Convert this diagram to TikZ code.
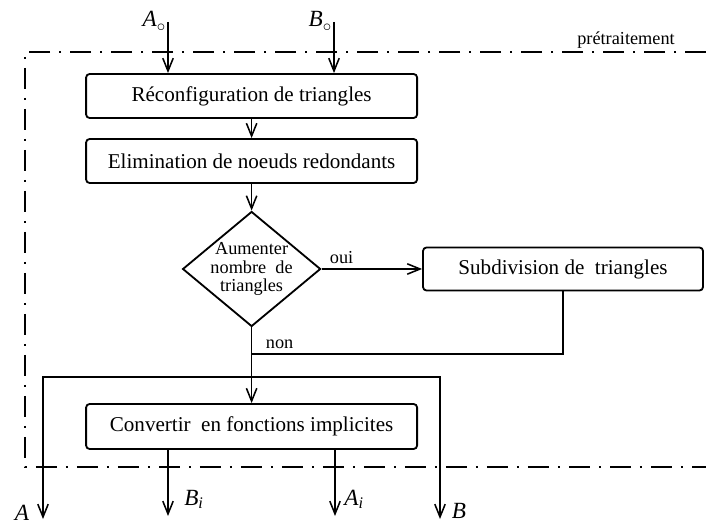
\documentclass[tikz,border=0pt]{standalone}
\usepackage{fontspec}
\setmainfont{Liberation Serif}
\usetikzlibrary{shapes.geometric,arrows.meta}

\begin{document}
\begin{tikzpicture}[
    boite/.style={draw, rounded corners=2.5pt, line width=1.3pt, minimum width=8.275cm, minimum height=1.1cm, font=\fontsize{15}{18}\selectfont},
    losange/.style={draw, diamond, line width=1.3pt, minimum width=3.45cm, minimum height=2.875cm, inner sep=0pt},
    fleche/.style={line width=1.1pt, -{Straight Barb[length=3.2mm,width=2.6mm]}},
    doublefleche/.style={line width=1.1pt, {Straight Barb[length=3.2mm,width=2.6mm]}-{Straight Barb[length=3.2mm,width=2.6mm]}},
    ligne/.style={line width=1.1pt},
    petit/.style={font=\fontsize{13}{13}\selectfont},
    var/.style={font=\fontsize{16.5}{18}\selectfont, anchor=base},
    cadre/.style={line width=1pt, dash pattern=on 0.525cm off 0.22cm on 0.06cm off 0.22cm}
]
    \useasboundingbox (0,0) rectangle (17.65,13.075);
    % Coordinate
    \coordinate (Ahaut) at (4.2,12.525);
    \coordinate (Bhaut) at (8.35,12.525);
    \coordinate (Bibas) at (4.2,0.175);
    \coordinate (Aibas) at (8.375,0.175);
    \coordinate (Abas) at (1.075,0.1);
    \coordinate (Bbas) at (11,0.1);
    \coordinate (coinA) at (1.075,3.65);
    \coordinate (coinB) at (11,3.65);
    \coordinate (jonction) at (6.29,4.225);
    % Cadre
    \draw [cadre] (17.65,11.775) -- (0.625,11.775) -- (0.625,1.4) -- (17.65,1.4);
    \node [petit, anchor=base] (pretrait) at (15.65,11.95) {prétraitement};
    % Blocs
    \node [boite] (reconf) at (6.29,10.675) {Réconfiguration de triangles};
    \node [boite] (elim) at (6.29,9.05) {Elimination de noeuds redondants};
    \node [losange, label={[petit, align=center]center:{Aumenter\\nombre~ de\\triangles}}] (dec) at (6.29,6.35) {};
    \node [boite, minimum width=7cm, minimum height=1.075cm] (subdiv) at (14.075,6.35) {Subdivision de~ triangles};
    \node [boite, minimum height=1.125cm] (convert) at (6.29,2.4125) {Convertir~ en fonctions implicites};
    % Linee
    \draw [fleche] (Ahaut) -- (Ahaut |- reconf.north);
    \draw [fleche] (Bhaut) -- (Bhaut |- reconf.north);
    \draw [fleche] (reconf) -- (elim);
    \draw [fleche] (elim) -- (dec);
    \draw [fleche] (dec) -- node [petit, above, pos=0.2] (oui) {oui} (subdiv);
    \draw [ligne] (subdiv.south) |- node [petit, above, pos=0.955] (non) {non} (jonction);
    \draw [fleche] (dec) -- (convert);
    \draw [doublefleche] (Abas) -- (coinA) -- (coinB) -- (Bbas);
    \draw [fleche] (Bibas |- convert.south) -- (Bibas);
    \draw [fleche] (Aibas |- convert.south) -- (Aibas);
    % Etiquettes
    \node [var] (Ao) at (3.85,12.4) {\textit{A}\raisebox{-3pt}{\fontsize{12}{12}\selectfont$\circ$}};
    \node [var] (Bo) at (8.0,12.4) {\textit{B}\raisebox{-3pt}{\fontsize{12}{12}\selectfont$\circ$}};
    \node [var] (Bi) at (4.85,0.45) {\textit{B}\textsubscript{\textit{i}}};
    \node [var] (Ai) at (8.85,0.45) {\textit{A}\textsubscript{\textit{i}}};
    \node [var] (A) at (0.55,0.075) {\textit{A}};
    \node [var] (B) at (11.475,0.125) {\textit{B}};
\end{tikzpicture}
\end{document}
